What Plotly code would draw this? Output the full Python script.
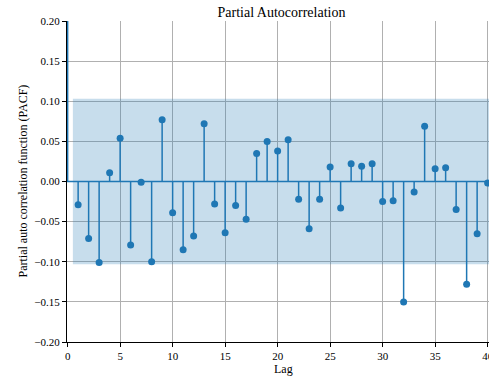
import plotly.graph_objects as go

lags = list(range(0, 41))
pacf = [1.0, -0.029, -0.071, -0.101, 0.011, 0.054, -0.079, -0.001, -0.100, 0.077,
        -0.039, -0.085, -0.068, 0.072, -0.028, -0.064, -0.030, -0.047, 0.035, 0.050,
        0.038, 0.052, -0.022, -0.059, -0.022, 0.018, -0.033, 0.022, 0.019, 0.022,
        -0.025, -0.024, -0.150, -0.013, 0.069, 0.016, 0.017, -0.035, -0.128, -0.065,
        -0.002]
conf = 0.103
band_x = [0.5, 40.5]
yticks = [0.20, 0.15, 0.10, 0.05, 0.00, -0.05, -0.10, -0.15, -0.20]
ytick_text = [f"{v:.2f}".replace("-", "\u2212") for v in yticks]
xticks = list(range(0, 41, 5))

blue = "#1f77b4"

stem_x, stem_y = [], []
for l, v in zip(lags, pacf):
    stem_x += [l, l, None]
    stem_y += [0, v, None]

fig = go.Figure()
fig.add_trace(go.Scatter(x=band_x, y=[conf, conf], mode="lines", line=dict(width=0),
                         showlegend=False, hoverinfo="skip"))
fig.add_trace(go.Scatter(x=band_x, y=[-conf, -conf], mode="lines", line=dict(width=0),
                         fill="tonexty", fillcolor="rgba(31,119,180,0.25)",
                         showlegend=False, hoverinfo="skip"))
fig.add_hline(y=0, line=dict(color=blue, width=1.5))
fig.add_trace(go.Scatter(x=stem_x, y=stem_y, mode="lines", line=dict(color=blue, width=1.5),
                         showlegend=False))
fig.add_trace(go.Scatter(x=lags, y=pacf, mode="markers", marker=dict(color=blue, size=7),
                         showlegend=False, cliponaxis=True))

font = "Liberation Serif, Times New Roman, serif"
fig.update_layout(
    width=489, height=379,
    margin=dict(l=67, r=0, t=21, b=37, autoexpand=False),
    paper_bgcolor="white", plot_bgcolor="white",
    font=dict(family=font, size=11, color="black"),
    title=dict(text="Partial Autocorrelation", x=281.5 / 489, xanchor="center", y=1 - 12 / 379,
               yanchor="middle", font=dict(size=14, family=font)),
    xaxis=dict(range=[-0.06, 40.13], tickvals=xticks, ticks="outside", ticklen=4, tickcolor="black",
               showgrid=True, gridcolor="#b0b0b0", gridwidth=1, zeroline=False,
               showline=True, linecolor="black", linewidth=1, mirror=False, automargin=False,
               ticklabeloverflow="allow", tickfont=dict(size=11)),
    yaxis=dict(range=[-0.20, 0.20], tickvals=yticks, ticktext=ytick_text, ticks="outside",
               ticklen=4, tickcolor="black", showgrid=True, gridcolor="#b0b0b0", gridwidth=1,
               zeroline=False, showline=True, linecolor="black", linewidth=1, mirror=True,
               automargin=False, layer="below traces", tickfont=dict(size=11)),
    annotations=[
        dict(text="Lag", xref="paper", yref="paper", x=(283 - 67) / 422, y=-0.085, xanchor="center",
             yanchor="middle", showarrow=False, font=dict(size=12, family=font)),
        dict(text="Partial auto correlation function (PACF)", xref="paper", yref="paper",
             x=-(67 - 22) / 422, y=0.5, xanchor="center", yanchor="middle", textangle=-90,
             showarrow=False, font=dict(size=12, family=font)),
    ],
)
fig.write_html("out.html", config={"displayModeBar": False},
               post_script="document.body.style.margin='0';document.body.style.overflow='hidden';")
